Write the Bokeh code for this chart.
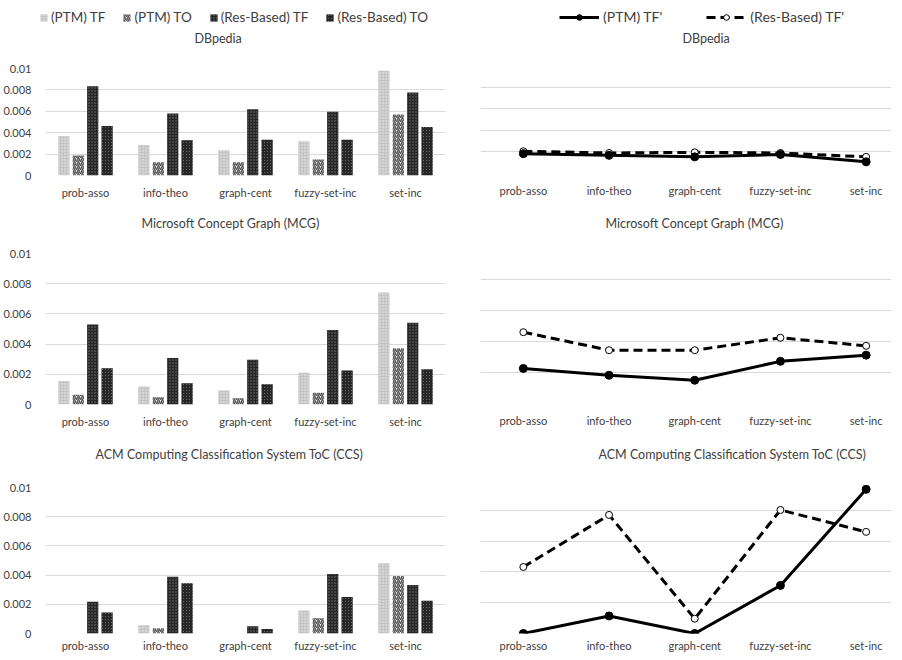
from bokeh.plotting import figure
from bokeh.layouts import row, column
from bokeh.models import Range1d, FixedTicker, Legend, LegendItem, ColumnDataSource, Title
from bokeh.transform import dodge
from bokeh.embed import file_html
from bokeh.resources import INLINE

# ---------------- data ----------------
CATEGORIES = ["prob-asso", "info-theo", "graph-cent", "fuzzy-set-inc", "set-inc"]
BAR_SERIES = ["(PTM) TF", "(PTM) TO", "(Res-Based) TF", "(Res-Based) TO"]
LINE_SERIES = ["(PTM) TF'", "(Res-Based) TF'"]
TITLES = ["DBpedia", "Microsoft Concept Graph (MCG)",
          "ACM Computing Classification System ToC (CCS)"]

DBP_PTM_TF = [0.0037, 0.00284, 0.00236, 0.0032, 0.00978]
DBP_PTM_TO = [0.00187, 0.00124, 0.00124, 0.0015, 0.0057]
DBP_RES_TF = [0.00834, 0.0058, 0.0062, 0.00596, 0.00775]
DBP_RES_TO = [0.00462, 0.0033, 0.00335, 0.00335, 0.00453]

MCG_PTM_TF = [0.00156, 0.0012, 0.00093, 0.00211, 0.00742]
MCG_PTM_TO = [0.00064, 0.00048, 0.00042, 0.00077, 0.00372]
MCG_RES_TF = [0.00529, 0.00308, 0.00297, 0.00493, 0.00542]
MCG_RES_TO = [0.0024, 0.0014, 0.00134, 0.00225, 0.00233]

CCS_PTM_TF = [0.0, 0.00056, 0.0, 0.00157, 0.00481]
CCS_PTM_TO = [0.0, 0.00036, 0.0, 0.00105, 0.00394]
CCS_RES_TF = [0.00217, 0.00389, 0.00049, 0.00407, 0.00333]
CCS_RES_TO = [0.00143, 0.00345, 0.00031, 0.0025, 0.00224]

DBP_PTM_TFP = [0.00092, 0.00084, 0.00077, 0.00088, 0.00054]
DBP_RES_TFP = [0.00103, 0.00095, 0.00098, 0.00095, 0.00077]
MCG_PTM_TFP = [0.00113, 0.00091, 0.00075, 0.00136, 0.00156]
MCG_RES_TFP = [0.0023, 0.00172, 0.00172, 0.00212, 0.00186]
CCS_PTM_TFP = [0.0, 0.00057, 0.0, 0.00156, 0.00468]
CCS_RES_TFP = [0.00216, 0.00385, 0.00048, 0.00401, 0.0033]

BAR_TICKS = [0, 0.002, 0.004, 0.006, 0.008, 0.01]
BAR_TICK_LABELS = ["0", "0.002", "0.004", "0.006", "0.008", "0.01"]
LINE_TICKS = [0, 0.001, 0.002, 0.003, 0.004, 0.005]

# ---------------- styles ----------------
FONT = "Lato"
TEXT = "#404040"
GRID = "#d9d9d9"
BAR_STYLES = [
    dict(fill_color="#c4c4c4", hatch_pattern="dot", hatch_color="#eeeeee", hatch_scale=3, hatch_weight=1),
    dict(fill_color="#f2f2f2", hatch_pattern="right_diagonal_line", hatch_color="#555555", hatch_scale=4, hatch_weight=1.5),
    dict(fill_color="#262626", hatch_pattern="dot", hatch_color="#7a7a7a", hatch_scale=3, hatch_weight=1),
    dict(fill_color="#d0d0d0", hatch_pattern="left_diagonal_line", hatch_color="#262626", hatch_scale=3, hatch_weight=1.5),
]
OFFSETS = [-0.27, -0.09, 0.09, 0.27]
BAR_WIDTH = 0.14

# column geometry (left border, frame width, right border)
LEFT_COL = (40, 400, 2)
RIGHT_COL = (33, 411, 0)


def style_common(p, title_offset, gap):
    p.title.align = "left"
    p.title.offset = title_offset
    p.title.standoff = 4
    p.title.text_font = FONT
    p.title.text_font_size = "12.5px"
    p.title.text_font_style = "normal"
    p.title.text_color = TEXT
    # empty spacer panel between the title and the plot frame
    p.add_layout(Title(text=" ", text_font_size="1px", standoff=gap), "above")
    p.outline_line_color = None
    p.xgrid.visible = False
    p.ygrid.grid_line_color = GRID
    p.ygrid.grid_line_width = 1
    for ax in p.axis:
        ax.axis_line_color = None
        ax.major_tick_line_color = None
        ax.minor_tick_line_color = None
        ax.major_tick_out = 0
        ax.major_tick_in = 0
        ax.minor_tick_out = 0
        ax.minor_tick_in = 0
        ax.axis_label_standoff = 0
        ax.major_label_text_font = FONT
        ax.major_label_text_font_size = "11px"
        ax.major_label_text_color = TEXT
    p.xaxis.ticker = FixedTicker(ticks=list(range(len(CATEGORIES))))
    p.xaxis.major_label_overrides = {i: c for i, c in enumerate(CATEGORIES)}


def bar_fig(title, src, frame_h, top, bottom, lab_standoff, t_off, gap):
    lb, fw, rb = LEFT_COL
    p = figure(frame_width=fw, frame_height=frame_h, title=title, toolbar_location=None,
               output_backend="svg", x_range=Range1d(-0.5, 4.5), y_range=Range1d(0, 0.01),
               min_border_left=lb, min_border_right=rb, min_border_top=top,
               min_border_bottom=bottom)
    for k in range(4):
        p.vbar(x=dodge("x", OFFSETS[k]), top="s%d" % k, width=BAR_WIDTH, source=src,
               line_color=None, **BAR_STYLES[k])
    style_common(p, t_off, gap)
    p.yaxis.ticker = FixedTicker(ticks=BAR_TICKS)
    p.yaxis.major_label_overrides = dict(zip(BAR_TICKS, BAR_TICK_LABELS))
    p.yaxis.major_label_standoff = 14
    p.xaxis.major_label_standoff = lab_standoff
    return p


def line_fig(title, src, frame_h, top, bottom, lab_standoff, t_off, gap):
    lb, fw, rb = RIGHT_COL
    p = figure(frame_width=fw, frame_height=frame_h, title=title, toolbar_location=None,
               output_backend="svg", x_range=Range1d(-0.5, 4.296), y_range=Range1d(0, 0.005),
               y_axis_location=None,
               min_border_left=lb, min_border_right=rb, min_border_top=top,
               min_border_bottom=bottom)
    p.line("x", "res", source=src, line_color="black", line_width=3, line_dash="9 5")
    p.scatter("x", "res", source=src, marker="circle", size=7, fill_color="white",
              line_color="black", line_width=1)
    p.line("x", "ptm", source=src, line_color="black", line_width=3)
    p.scatter("x", "ptm", source=src, marker="circle", size=8, fill_color="black",
              line_color="black")
    style_common(p, t_off, gap)
    p.ygrid.ticker = FixedTicker(ticks=LINE_TICKS)
    p.xaxis.major_label_standoff = lab_standoff
    return p


def legend_fig(geom):
    lb, fw, rb = geom
    p = figure(frame_width=fw, frame_height=18, toolbar_location=None, output_backend="svg",
               x_range=Range1d(-10, -9), y_range=Range1d(-10, -9),
               x_axis_location=None, y_axis_location=None,
               min_border=0, min_border_left=lb, min_border_right=rb, min_border_top=8)
    p.grid.visible = False
    p.outline_line_color = None
    return p


xs = list(range(len(CATEGORIES)))
src_b = [ColumnDataSource(dict(x=xs, s0=a, s1=b, s2=c, s3=d)) for a, b, c, d in [
    (DBP_PTM_TF, DBP_PTM_TO, DBP_RES_TF, DBP_RES_TO),
    (MCG_PTM_TF, MCG_PTM_TO, MCG_RES_TF, MCG_RES_TO),
    (CCS_PTM_TF, CCS_PTM_TO, CCS_RES_TF, CCS_RES_TO)]]
src_l = [ColumnDataSource(dict(x=xs, ptm=a, res=b)) for a, b in [
    (DBP_PTM_TFP, DBP_RES_TFP), (MCG_PTM_TFP, MCG_RES_TFP), (CCS_PTM_TFP, CCS_RES_TFP)]]

# legends (renderers share the first chart's data but are hidden)
leg_l = legend_fig(LEFT_COL)
items = []
for k, (name, st) in enumerate(zip(BAR_SERIES, BAR_STYLES)):
    r = leg_l.vbar(x="x", top="s%d" % k, width=0.1, source=src_b[0], line_color=None, **st)
    r.visible = False
    items.append(LegendItem(label=name, renderers=[r]))
leg_l.add_layout(Legend(items=items, orientation="horizontal", location=(25, 1),
                        glyph_width=9, glyph_height=9, label_height=14, label_standoff=3,
                        spacing=17, padding=0, margin=0, border_line_color=None,
                        background_fill_alpha=0, label_text_font=FONT,
                        label_text_font_size="13.5px", label_text_color=TEXT), "center")

leg_r = legend_fig(RIGHT_COL)
r1 = leg_r.line("x", "ptm", source=src_l[0], line_color="black", line_width=3)
r1m = leg_r.scatter("x", "ptm", source=src_l[0], marker="circle", size=8, fill_color="black",
                    line_color="black")
r2 = leg_r.line("x", "res", source=src_l[0], line_color="black", line_width=3, line_dash="9 5")
r2m = leg_r.scatter("x", "res", source=src_l[0], marker="circle", size=7, fill_color="white",
                    line_color="black")
for r in (r1, r1m, r2, r2m):
    r.visible = False
leg_r.add_layout(Legend(items=[LegendItem(label=LINE_SERIES[0], renderers=[r1, r1m]),
                               LegendItem(label=LINE_SERIES[1], renderers=[r2, r2m])],
                        orientation="horizontal", location=(79, 1),
                        glyph_width=40, glyph_height=14, label_height=14, label_standoff=4,
                        spacing=44, padding=0, margin=0, border_line_color=None,
                        background_fill_alpha=0, label_text_font=FONT,
                        label_text_font_size="14px", label_text_color=TEXT), "center")

# charts: (title, source, frame height, top, bottom, label standoff, title offset, title gap)
b1 = bar_fig(TITLES[0], src_b[0], 107, 42, 33, 10, 149, 18)
b2 = bar_fig(TITLES[1], src_b[1], 151, 45, 36, 10, 96, 18)
b3 = bar_fig(TITLES[2], src_b[2], 146, 47, 19, 5, 50, 21)

l1 = line_fig(TITLES[0], src_l[0], 108, 39, 35, 10, 202, 15)
l2 = line_fig(TITLES[1], src_l[1], 155, 40, 37, 10, 125, 13)
l3 = line_fig(TITLES[2], src_l[2], 154, 39, 19, 5, 118, 13)

layout = row(column(leg_l, b1, b2, b3), column(leg_r, l1, l2, l3))

open("out.html", "w").write(file_html(layout, INLINE))
